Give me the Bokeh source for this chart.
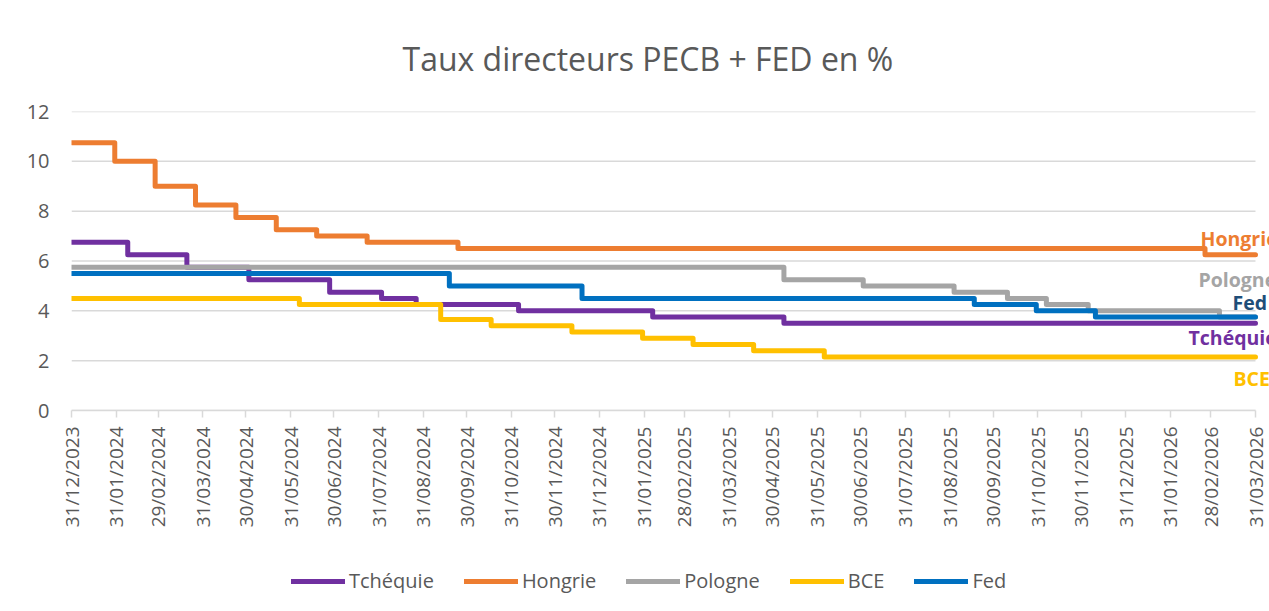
import math
import pandas as pd
from bokeh.plotting import figure
from bokeh.layouts import column
from bokeh.models import (Range1d, FixedTicker, DatetimeTickFormatter, Legend,
                          LegendItem, Label)
from bokeh.embed import file_html
from bokeh.resources import INLINE

# ---------------- data ----------------
title_text = "Taux directeurs PECB + FED en %"

tick_dates = ["2023-12-31", "2024-01-31", "2024-02-29", "2024-03-31", "2024-04-30",
              "2024-05-31", "2024-06-30", "2024-07-31", "2024-08-31", "2024-09-30",
              "2024-10-31", "2024-11-30", "2024-12-31", "2025-01-31", "2025-02-28",
              "2025-03-31", "2025-04-30", "2025-05-31", "2025-06-30", "2025-07-31",
              "2025-08-31", "2025-09-30", "2025-10-31", "2025-11-30", "2025-12-31",
              "2026-01-31", "2026-02-28", "2026-03-31"]
y_ticks = [0, 2, 4, 6, 8, 10, 12]

cz_dates = ["2023-12-31", "2024-02-08", "2024-03-20", "2024-05-02", "2024-06-27",
            "2024-08-02", "2024-08-26", "2024-11-05", "2025-02-06", "2025-05-08",
            "2026-03-31"]
cz_rates = [6.75, 6.25, 5.75, 5.25, 4.75, 4.50, 4.25, 4.00, 3.75, 3.50, 3.50]

hu_dates = ["2023-12-31", "2024-01-30", "2024-02-27", "2024-03-26", "2024-04-23",
            "2024-05-21", "2024-06-18", "2024-07-23", "2024-09-24", "2026-02-24",
            "2026-03-31"]
hu_rates = [10.75, 10.00, 9.00, 8.25, 7.75, 7.25, 7.00, 6.75, 6.50, 6.25, 6.25]

pl_dates = ["2023-12-31", "2025-05-08", "2025-07-02", "2025-09-03", "2025-10-10",
            "2025-11-06", "2025-12-05", "2026-03-06", "2026-03-31"]
pl_rates = [5.75, 5.25, 5.00, 4.75, 4.50, 4.25, 4.00, 3.75, 3.75]

ecb_dates = ["2023-12-31", "2024-06-06", "2024-09-12", "2024-10-17", "2024-12-12",
             "2025-01-30", "2025-03-06", "2025-04-17", "2025-06-05", "2026-03-31"]
ecb_rates = [4.50, 4.25, 3.65, 3.40, 3.15, 2.90, 2.65, 2.40, 2.15, 2.15]

fed_dates = ["2023-12-31", "2024-09-18", "2024-12-19", "2025-09-17", "2025-10-30",
             "2025-12-10", "2026-03-31"]
fed_rates = [5.50, 5.00, 4.50, 4.25, 4.00, 3.75, 3.75]

series_names = ["Tchéquie", "Hongrie", "Pologne", "BCE", "Fed"]
series_dates = [cz_dates, hu_dates, pl_dates, ecb_dates, fed_dates]
series_rates = [cz_rates, hu_rates, pl_rates, ecb_rates, fed_rates]
line_colors = ["#7030A0", "#ED7D31", "#A5A5A5", "#FFC000", "#0070C0"]
label_colors = ["#7030A0", "#ED7D31", "#A5A5A5", "#FFC000", "#1F4E79"]
# end-label pixel offsets (x, y) relative to each series' last point
label_offsets = [(-67, -14), (-55, 16), (-57, 38), (-22, -22), (-23, 15)]

FONT = "Open Sans"
GREY = "#595959"
W, H = 1269, 611
LEG_H = 70                      # height of the legend strip under the chart
FRAME_L, FRAME_R_AXIS, FRAME_T, FRAME_B = 71, 1255, 111, 410
MAIN_H = H - LEG_H


def ms(d):
    return pd.Timestamp(d).value // 10**6


x0, x1 = ms(tick_dates[0]), ms(tick_dates[-1])
# extend the frame to the canvas edge so the end labels can overflow like the reference
x_end = x1 + (x1 - x0) * (W - FRAME_R_AXIS) / (FRAME_R_AXIS - FRAME_L)

# ---------------- main figure ----------------
p = figure(width=W, height=MAIN_H, output_backend="svg", toolbar_location=None,
           x_axis_type="datetime",
           x_range=Range1d(x0, x_end),
           y_range=Range1d(y_ticks[0], y_ticks[-1]),
           min_border_left=FRAME_L, min_border_right=0,
           min_border_top=FRAME_T, min_border_bottom=MAIN_H - FRAME_B)
p.outline_line_color = None
p.background_fill_color = "white"
p.border_fill_color = "white"

# title
p.title.text = title_text
p.title.align = "left"
p.title.offset = 331
p.title.standoff = 63
p.title.text_font = FONT
p.title.text_font_size = "32px"
p.title.text_font_style = "normal"
p.title.text_color = GREY

# axes
p.xaxis.ticker = FixedTicker(ticks=[ms(d) for d in tick_dates])
p.xaxis.bounds = (x0, x1)
fmt = "%d/%m/%Y"
p.xaxis.formatter = DatetimeTickFormatter(microseconds=fmt, milliseconds=fmt, seconds=fmt,
                                          minsec=fmt, minutes=fmt, hourmin=fmt, hours=fmt,
                                          days=fmt, months=fmt, years=fmt)
p.xaxis.major_label_orientation = math.pi / 2
p.xaxis.axis_line_color = "#D9D9D9"
p.xaxis.axis_line_width = 1.5
p.xaxis.major_tick_line_color = "#D9D9D9"
p.xaxis.major_tick_line_width = 1.5
p.xaxis.major_tick_in = 0
p.xaxis.major_tick_out = 7
p.xaxis.minor_tick_line_color = None
p.xaxis.major_label_standoff = 9
p.xaxis.major_label_text_font = FONT
p.xaxis.major_label_text_font_size = "19px"
p.xaxis.major_label_text_color = GREY

p.yaxis.ticker = FixedTicker(ticks=y_ticks)
p.yaxis.axis_line_color = None
p.yaxis.major_tick_line_color = None
p.yaxis.minor_tick_line_color = None
p.yaxis.major_tick_out = 0
p.yaxis.major_tick_in = 0
p.yaxis.major_label_standoff = 22
p.yaxis.major_label_text_font = FONT
p.yaxis.major_label_text_font_size = "20px"
p.yaxis.major_label_text_color = GREY

p.xgrid.grid_line_color = None
p.ygrid.grid_line_color = None

# horizontal gridlines, limited to the date span like the reference
p.segment(x0=[x0] * len(y_ticks), x1=[x1] * len(y_ticks), y0=y_ticks, y1=y_ticks,
          line_color="#D9D9D9", line_width=1.5)

# series
for name, dts, rts, col in zip(series_names, series_dates, series_rates, line_colors):
    p.step(x=[ms(d) for d in dts], y=rts, mode="after", line_color=col,
           line_width=5, line_join="round", line_cap="round")

# end labels
for name, dts, rts, col, (dx, dy) in zip(series_names, series_dates, series_rates,
                                         label_colors, label_offsets):
    p.add_layout(Label(x=ms(dts[-1]), y=rts[-1], x_offset=dx, y_offset=dy, text=name,
                       text_font=FONT, text_font_size="19.5px", text_font_style="bold",
                       text_color=col, text_align="left", text_baseline="middle"))

# ---------------- legend strip ----------------
lg = figure(width=W, height=LEG_H, output_backend="svg", toolbar_location=None,
            x_range=Range1d(0, 1), y_range=Range1d(0, 1),
            x_axis_location=None, y_axis_location=None,
            min_border=0)
lg.outline_line_color = None
lg.xgrid.grid_line_color = None
lg.ygrid.grid_line_color = None
items = []
for name, dts, rts, col in zip(series_names, series_dates, series_rates, line_colors):
    # same series, kept out of this strip's view: only its legend entry shows
    r = lg.step(x=[ms(d) for d in dts], y=rts, mode="after", line_color=col,
                line_width=5, line_join="round", line_cap="round")
    items.append(LegendItem(label=name, renderers=[r]))

legend = Legend(items=items, orientation="horizontal", location=(220, 17),
                glyph_width=54, glyph_height=20, label_standoff=4, spacing=30,
                padding=0, margin=0, border_line_color=None,
                background_fill_alpha=0, label_text_font=FONT,
                label_text_font_size="20px", label_text_color=GREY)
lg.add_layout(legend)

layout = column(p, lg, spacing=0)
open("out.html", "w").write(file_html(layout, INLINE))
